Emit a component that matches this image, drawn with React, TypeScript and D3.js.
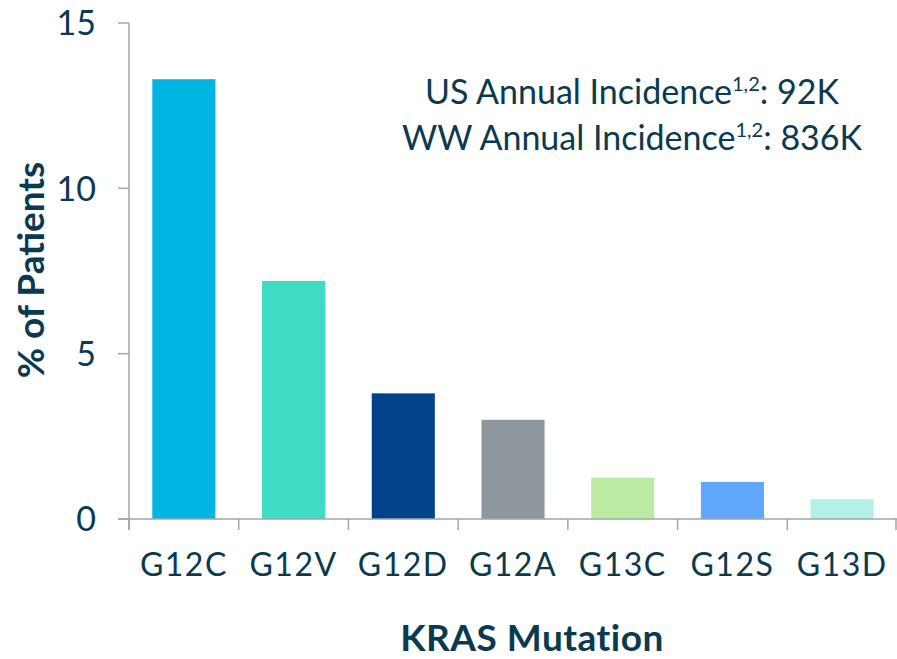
import React from "react";
import * as d3 from "d3";

const mutations = ["G12C", "G12V", "G12D", "G12A", "G13C", "G12S", "G13D"];
const percentPatients = [13.3, 7.2, 3.8, 3.0, 1.25, 1.12, 0.6];
const barColors = ["#00b5e2", "#40dbc3", "#00438a", "#8e969e", "#bdeaa2", "#5fa8fd", "#b3f0e6"];
const yTicks = [0, 5, 10, 15];
const noteLines = [
  { pre: "US Annual Incidence", sup: "1,2", post: ": 92K" },
  { pre: "WW Annual Incidence", sup: "1,2", post: ": 836K" },
];

const W = 897;
const H = 659;
const textColor = "#0b3a50";
const axisColor = "#a3a5aa";
const font = "Lato, 'Open Sans', sans-serif";

const App = () => {
  const x = d3.scaleBand().domain(mutations).range([129, 897]).padding(0);
  const y = d3.scaleLinear().domain([0, 15]).range([519, 23]);
  const barW = x.bandwidth() * 0.575;

  return (
    <svg width={W} height={H} style={{ position: "absolute", left: 0, top: 0 }}>
      {/* bars */}
      {mutations.map((m, i) => (
        <rect
          key={m}
          x={x(m)! + (x.bandwidth() - barW) / 2}
          y={y(percentPatients[i])}
          width={barW}
          height={y(0) - y(percentPatients[i])}
          fill={barColors[i]}
        />
      ))}
      {/* y axis */}
      <line x1={129} x2={129} y1={y(15)} y2={530} stroke={axisColor} strokeWidth={1.5} />
      {yTicks.map((t) => (
        <g key={t}>
          <line x1={118} x2={129} y1={y(t)} y2={y(t)} stroke={axisColor} strokeWidth={1.5} />
          <text x={96} y={y(t)} dy="0.36em" textAnchor="end" fontFamily={font} fontSize={34} fill={textColor}>
            {t}
          </text>
        </g>
      ))}
      {/* x axis */}
      <line x1={118} x2={897} y1={y(0)} y2={y(0)} stroke={axisColor} strokeWidth={1.5} />
      {mutations.map((m) => (
        <line key={m} x1={x(m)!} x2={x(m)!} y1={y(0)} y2={530} stroke={axisColor} strokeWidth={1.5} />
      ))}
      <line x1={896} x2={896} y1={y(0)} y2={530} stroke={axisColor} strokeWidth={1.5} />
      {mutations.map((m) => (
        <text
          key={m}
          x={x(m)! + x.bandwidth() / 2}
          y={576}
          textAnchor="middle"
          fontFamily={font}
          fontSize={32}
          letterSpacing={1.5}
          fill={textColor}
        >
          {m}
        </text>
      ))}
      {/* axis titles */}
      <text
        transform="translate(44,270) rotate(-90)"
        textAnchor="middle"
        fontFamily={font}
        fontSize={37}
        fontWeight="bold"
        fill={textColor}
      >
        % of Patients
      </text>
      <text
        x={532}
        y={651}
        textAnchor="middle"
        fontFamily={font}
        fontSize={37}
        fontWeight="bold"
        letterSpacing={0.5}
        fill={textColor}
      >
        KRAS Mutation
      </text>
      {/* annotation */}
      {noteLines.map((l, i) => (
        <text
          key={i}
          x={632}
          y={104 + i * 46}
          textAnchor="middle"
          fontFamily={font}
          fontSize={34}
          fill={textColor}
        >
          {l.pre}
          <tspan fontSize={20} dy={-13}>
            {l.sup}
          </tspan>
          <tspan dy={13}>{l.post}</tspan>
        </text>
      ))}
    </svg>
  );
};

export default App;
